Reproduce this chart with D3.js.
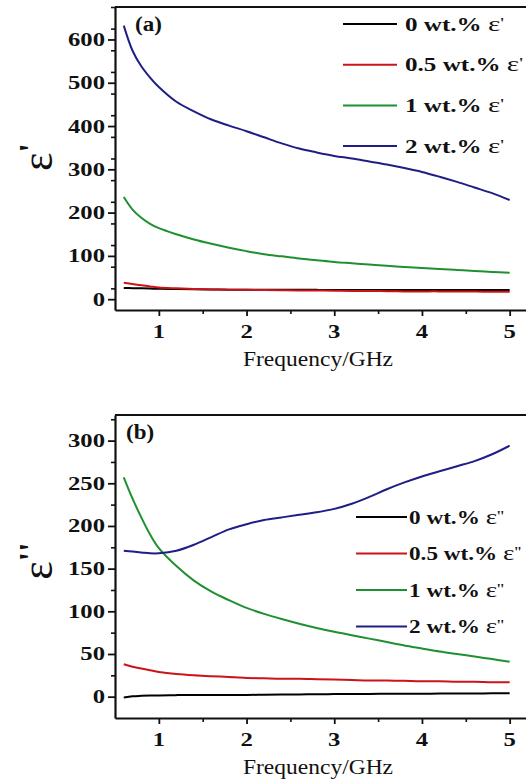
<!DOCTYPE html>
<html><head><meta charset="utf-8">
<script src="https://cdn.jsdelivr.net/npm/d3@7/dist/d3.min.js"></script>
<style>body{margin:0;background:#fff}svg{display:block}</style>
</head><body>
<script>
// Frequency grid (GHz) shared by all series
const freq = [0.6,0.7,0.8,0.9,1.0,1.2,1.4,1.6,1.8,2.0,2.2,2.4,2.6,2.8,3.0,3.2,3.4,3.6,3.8,4.0,4.2,4.4,4.6,4.8,5.0];

// Real permittivity ε'
const loadLabels = ["0 wt.%", "0.5 wt.%", "1 wt.%", "2 wt.%"];
const real0  = [26,25.5,25,24.5,24,23.5,23,22.5,22,22,22,21.5,21.5,21.5,21,21,21,21,21,21,21,21,21,21,21];
const real05 = [38,35,32,29.5,27,25,23.5,22.5,22,21.5,21,20.5,20,20,19.5,19,19,18.5,18,18,18,17.5,17.5,17,17];
const real1  = [236,207,188,174,164,150,138,128,119,111,104,99,94,90,86,83,80,77,74.5,72,70,67.5,65,63,61];
const real2  = [632,574,538,512,490,456,434,415,401,388,374,360,348,339,331,325,318,311,303,294,283,271,258,245,229];

// Imaginary permittivity ε''
const imag0  = [-1,0.5,1,1.3,1.5,1.8,2,2,2,2,2.2,2.4,2.6,2.8,3,3,3.2,3.3,3.4,3.5,3.6,3.7,3.8,3.9,4];
const imag05 = [38,35,33,31,29,26.5,25,24,23,22,21.5,21,21,20.5,20,19.5,19,19,18.5,18,18,17.5,17.5,17,17];
const imag1  = [257,232,210,190,174,153,136,123,113,104,97,91,85.5,80.5,76,72,68,64,60,56.5,53,50,47,44,41];
const imag2  = [171,170,169,168,168,171,178,187,196,202,207,210,213,216,220,226,234,243,251,258,264,270,276,284,294];

const xTicks = [1,2,3,4,5];
const realTicks = [0,100,200,300,400,500,600];
const imagTicks = [0,50,100,150,200,250,300];

const colors = ["#000000", "#cc1418", "#1f9030", "#1e1e86"];
const W = 526, H = 780;
const SX = 1.3; // horizontal stretch of the bold labels
const SERIF = "'Liberation Serif','Times New Roman',serif";

const svg = d3.select("body").append("svg").attr("width", W).attr("height", H);

function stext(parent, x, y, str, o) {
  const g = parent.append("g").attr("transform", `translate(${x},${y}) scale(${o.sx || 1},1)`);
  return g.append("text")
    .attr("text-anchor", o.anchor || "start")
    .attr("font-family", SERIF)
    .attr("font-weight", o.weight || "bold")
    .attr("font-size", o.size)
    .attr("fill", "#111")
    .text(str);
}

function panel(cfg) {
  const top = cfg.top, bottom = cfg.top + 303;
  const left = 115;
  const x = d3.scaleLinear().domain([0.5, 5.2]).range([left, left + 412.2]);
  const y = d3.scaleLinear().domain(cfg.yDomain).range([bottom, top]);
  const g = svg.append("g");

  // series
  const line = d3.line().x(d => x(d[0])).y(d => y(d[1])).curve(d3.curveCatmullRom.alpha(0.5));
  cfg.series.forEach((s, i) => {
    g.append("path").datum(freq.map((f, k) => [f, s[k]]))
      .attr("fill", "none").attr("stroke", colors[i]).attr("stroke-width", 2)
      .attr("d", line);
  });

  // frame: top line, left axis, bottom axis
  g.append("line").attr("x1", left).attr("x2", W).attr("y1", top).attr("y2", top)
    .attr("stroke", "#111").attr("stroke-width", 2);

  const yMinor = d3.range(cfg.yDomain[0], cfg.yDomain[1] + 0.01, cfg.minorStep)
    .filter(v => !cfg.yTicks.includes(v) && v > cfg.yDomain[0]);
  const yMinorAxis = d3.axisLeft(y).tickValues(yMinor).tickSize(4).tickFormat("");
  g.append("g").attr("transform", `translate(${left},0)`).call(yMinorAxis)
    .call(a => a.select(".domain").remove())
    .selectAll("line").attr("stroke", "#111").attr("stroke-width", 1.6);
  const yAxis = d3.axisLeft(y).tickValues(cfg.yTicks).tickSize(7).tickSizeOuter(0);
  const ya = g.append("g").attr("transform", `translate(${left},0)`).call(yAxis);
  ya.select(".domain").attr("stroke", "#111").attr("stroke-width", 2.2);
  ya.selectAll(".tick line").attr("stroke", "#111").attr("stroke-width", 1.8);
  ya.selectAll(".tick text").remove();
  cfg.yTicks.forEach(v => stext(g, left - 10, y(v) + 6.5, String(v), {anchor: "end", size: 19, sx: SX}));

  const xMinorAxis = d3.axisBottom(x).tickValues([1.5,2.5,3.5,4.5]).tickSize(4).tickFormat("");
  g.append("g").attr("transform", `translate(0,${bottom})`).call(xMinorAxis)
    .call(a => a.select(".domain").remove())
    .selectAll("line").attr("stroke", "#111").attr("stroke-width", 1.6);
  const xAxis = d3.axisBottom(x).tickValues(xTicks).tickSize(6).tickSizeOuter(0);
  const xa = g.append("g").attr("transform", `translate(0,${bottom})`).call(xAxis);
  xa.select(".domain").attr("stroke", "#111").attr("stroke-width", 2.2);
  xa.selectAll(".tick line").attr("stroke", "#111").attr("stroke-width", 1.8);
  xa.selectAll(".tick text").remove();
  xTicks.forEach(v => stext(g, x(v), bottom + 28, String(v), {anchor: "middle", size: 19, sx: SX}));

  stext(g, 318, bottom + 56, "Frequency/GHz", {anchor: "middle", size: 21, sx: 1.12, weight: "normal"});

  // panel tag
  stext(g, cfg.tagX, top + 24, cfg.tag, {size: 20, sx: 1.15});

  // y-axis title: ε with prime marks
  const t = g.append("text")
    .attr("transform", `translate(52,${cfg.titleY}) rotate(-90)`)
    .attr("text-anchor", "middle")
    .attr("font-family", SERIF)
    .attr("font-size", 44).attr("fill", "#111");
  t.append("tspan").text("ε");
  t.append("tspan").attr("dy", -10).attr("font-weight", "bold").attr("font-size", 34).text(cfg.prime);

  // legend
  const tx = cfg.legX + cfg.legLen + cfg.legGap;
  const entries = loadLabels.map((lab, i) => {
    const ly = cfg.legY + i * cfg.legStep;
    g.append("line").attr("x1", cfg.legX).attr("x2", cfg.legX + cfg.legLen)
      .attr("y1", ly).attr("y2", ly).attr("stroke", colors[i]).attr("stroke-width", 2);
    const wrap = g.append("g").attr("transform", `translate(${tx},${ly + 6.5})`);
    const txt = wrap.append("text").attr("font-family", SERIF).attr("font-size", 18).attr("fill", "#111");
    txt.append("tspan").attr("font-weight", "bold").text(lab + " ");
    txt.append("tspan").attr("font-size", 21).text("ε");
    txt.append("tspan").attr("font-size", 15).attr("dy", -3).text(cfg.prime);
    return {wrap, txt};
  });
  const w0 = entries[0].txt.node().getComputedTextLength();
  const w05 = entries[1].txt.node().getComputedTextLength();
  const s = Math.min(cfg.legW / w0, (W - 3 - tx) / w05);
  entries.forEach(e => e.wrap.attr("transform", e.wrap.attr("transform") + ` scale(${s},1)`));
}

panel({
  top: 7, yDomain: [-25, 675], yTicks: realTicks, minorStep: 50,
  series: [real0, real05, real1, real2], tag: "(a)", tagX: 135, titleY: 157, prime: "'",
  legX: 343, legLen: 54, legGap: 8, legY: 24, legStep: 40.7, legW: 100
});
panel({
  top: 415, yDomain: [-25, 330], yTicks: imagTicks, minorStep: 25,
  series: [imag0, imag05, imag1, imag2], tag: "(b)", tagX: 126, titleY: 561, prime: "''",
  legX: 356, legLen: 51, legGap: 2, legY: 517, legStep: 36.5, legW: 95
});
</script>
</body></html>
